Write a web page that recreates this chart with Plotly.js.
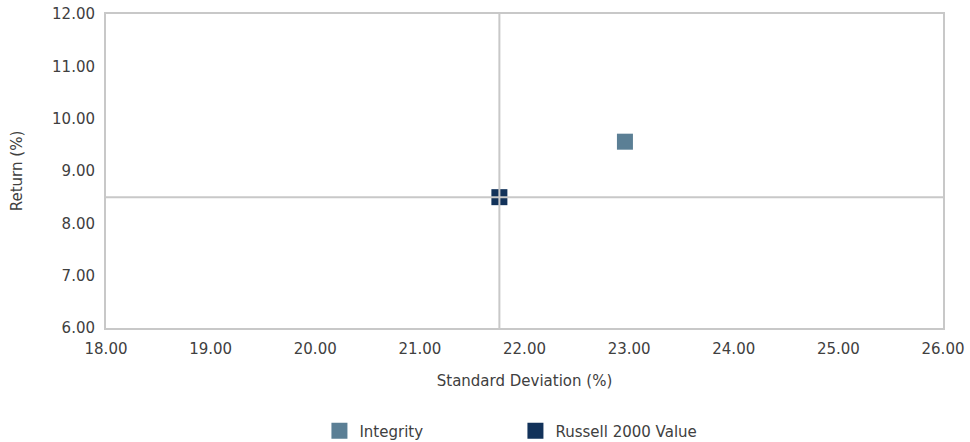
<!DOCTYPE html>
<html>
<head>
<meta charset="utf-8">
<script src="https://cdn.plot.ly/plotly-3.0.1.min.js"></script>
<style>
html,body{margin:0;padding:0;background:#fff;}
#chart{width:970px;height:442px;}
</style>
</head>
<body>
<div id="chart"></div>
<script>
const seriesNames = ["Integrity", "Russell 2000 Value"];
const stdDev = [22.96, 21.76];
const returns = [9.56, 8.50];
const colors = ["#5b7f95", "#12325a"];
const xTicks = [18, 19, 20, 21, 22, 23, 24, 25, 26];
const yTicks = [6, 7, 8, 9, 10, 11, 12];

const benchIdx = 1;
const traces = seriesNames.map((n, i) => ({
  type: "scatter",
  mode: "markers",
  name: n,
  x: [stdDev[i]],
  y: [returns[i]],
  marker: {symbol: "square", size: 16, color: colors[i]},
  hoverinfo: "x+y+name"
}));

const txt = "#404040";
const fnt = "'DejaVu Sans', 'Open Sans', sans-serif";
const lineStyle = {color: "#c8c8c8", width: 2};
const layout = {
  width: 970, height: 442,
  margin: {l: 106, r: 27, t: 14, b: 114, autoexpand: false},
  paper_bgcolor: "#fff", plot_bgcolor: "#fff",
  font: {family: fnt, size: 15, color: txt},
  showlegend: true,
  legend: {orientation: "h", x: 0.255, xanchor: "left", y: -0.328, yanchor: "middle",
           font: {family: fnt, size: 15, color: txt}, entrywidth: 151, entrywidthmode: "pixels",
           itemwidth: 30, bgcolor: "rgba(0,0,0,0)"},
  xaxis: {range: [18, 26], tickvals: xTicks, ticktext: xTicks.map(v => v.toFixed(2)),
          showgrid: false, zeroline: false, showline: true, linecolor: "#c8c8c8", linewidth: 2,
          mirror: true, ticks: "outside", ticklen: 6, tickcolor: "rgba(0,0,0,0)",
          title: {text: "Standard Deviation (%)", font: {family: fnt, size: 15, color: txt}, standoff: 18},
          tickfont: {family: fnt, size: 15, color: txt}, fixedrange: true},
  yaxis: {range: [6, 12], tickvals: yTicks, ticktext: yTicks.map(v => v.toFixed(2)),
          showgrid: false, zeroline: false, showline: true, linecolor: "#c8c8c8", linewidth: 2,
          mirror: true, ticks: "outside", ticklen: 6, tickcolor: "rgba(0,0,0,0)",
          title: {text: "Return (%)", font: {family: fnt, size: 15, color: txt}, standoff: 26},
          tickfont: {family: fnt, size: 15, color: txt}, fixedrange: true},
  shapes: [
    {type: "line", xref: "x", yref: "paper", x0: stdDev[benchIdx], x1: stdDev[benchIdx], y0: 0, y1: 1, line: lineStyle, layer: "above"},
    {type: "line", xref: "paper", yref: "y", x0: 0, x1: 1, y0: returns[benchIdx], y1: returns[benchIdx], line: lineStyle, layer: "above"}
  ]
};

Plotly.newPlot("chart", traces, layout, {displayModeBar: false, staticPlot: true});
</script>
</body>
</html>
